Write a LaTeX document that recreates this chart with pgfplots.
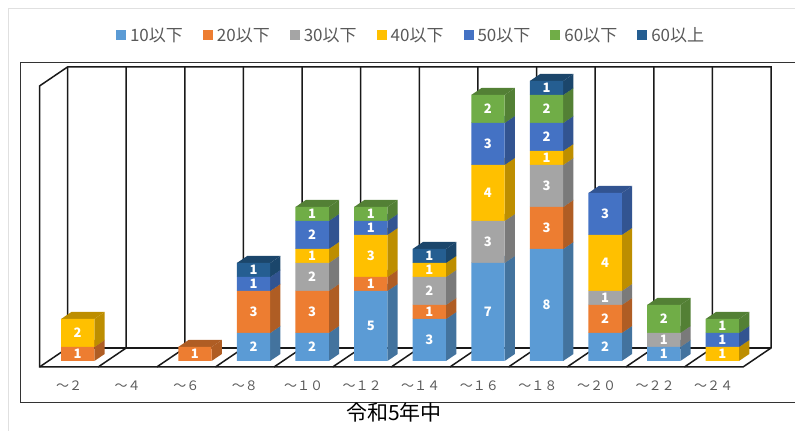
\documentclass[border=0pt]{standalone}
\usepackage{fontspec}
\setmainfont{Noto Sans CJK JP}
\usepackage{pgfplots}
\usepackage{pgfplotstable}
\pgfplotsset{compat=1.18}

\definecolor{c1}{HTML}{5B9BD5}
\definecolor{c2}{HTML}{ED7D31}
\definecolor{c3}{HTML}{A5A5A5}
\definecolor{c4}{HTML}{FFC000}
\definecolor{c5}{HTML}{4472C4}
\definecolor{c6}{HTML}{70AD47}
\definecolor{c7}{HTML}{255E91}
\definecolor{txt}{HTML}{595959}

% people per band, one row per category
\pgfplotstableread{
x  a b c d e f g
0  0 1 0 2 0 0 0
1  0 0 0 0 0 0 0
2  0 1 0 0 0 0 0
3  2 3 0 0 1 0 1
4  2 3 2 1 2 1 0
5  5 1 0 3 1 1 0
6  3 1 2 1 0 0 1
7  7 0 3 4 3 2 0
8  8 3 3 1 2 2 1
9  2 2 1 4 3 0 0
10 1 0 1 0 0 2 0
11 0 0 0 1 1 1 0
}\counts

\pgfdeclareplotmark{nil}{}

\pgfplotsset{
  base/.style={
    scale only axis, width=731.5pt, height=300pt,
    at={(39.5pt,64pt)}, anchor=south west,
    xmin=-0.652, xmax=11.831, ymin=-0.4286, ymax=21,
    clip=false,
  },
  % side and top face of one bar segment, hung from the stacked point
  depth/.style 2 args={
    only marks, scatter, mark=nil,
    visualization depends on={\thisrow{#1}\as\segv},
    scatter/@pre marker code/.code={%
      \ifdim\segv pt>0pt
        \pgfmathsetlengthmacro\segh{14pt*\segv}
        \fill[draw=none, #2!74!black] (16.65pt,0pt) -- (26.95pt,7pt) -- ([yshift=-\segh]26.95pt,7pt) -- ([yshift=-\segh]16.65pt,0pt) -- cycle;
        \fill[draw=none, #2!74!black] (-16.65pt,0pt) -- (16.65pt,0pt) -- (26.95pt,7pt) -- (-6.35pt,7pt) -- cycle;
      \fi
      \scope},
    scatter/@post marker code/.code={\endscope},
  },
  front/.style 2 args={
    fill=#2, draw=none,
    visualization depends on={\thisrow{#1}\as\segv},
    nodes near coords={\ifdim\segv pt>0pt \pgfmathprintnumber[precision=0,assume math mode=true]{\segv}\fi},
    every node near coord/.append style={
      anchor=center, text=white,
      font=\fontsize{13}{13}\selectfont\bfseries, inner sep=0pt},
  },
}

\begin{document}
\begin{tikzpicture}[x=1pt,y=1pt]
\path[use as bounding box] (0,0) rectangle (795,431);
% light outer border of the chart
\draw[draw=black!12, line width=0.8pt] (795,423) -- (8.5,423) -- (8.5,0);
% plot frame
\draw[draw=black!80, line width=0.9pt] (795,369) -- (20.5,369) -- (20.5,29) -- (795,29);
% walls and floor
\begin{scope}[draw=black!90, line width=1.5pt]
\draw (39.5,345) -- (67.5,364) -- (771,364) -- (771,83) -- (743,64) -- (39.5,64) -- cycle;
\draw (67.5,364) -- (67.5,83) -- (771,83);
\foreach \k in {0,...,11} {
  \draw ({67.5+58.625*\k},364) -- ({67.5+58.625*\k},83) -- ({39.5+58.625*\k},64);
}
\end{scope}

% side and top faces first, bottom segment first
\begin{axis}[base, hide axis, stack plots=y, reverse stacked plots=false]
\addplot[depth={a}{c1}] table[x=x, y=a] {\counts};
\addplot[depth={b}{c2}] table[x=x, y=b] {\counts};
\addplot[depth={c}{c3}] table[x=x, y=c] {\counts};
\addplot[depth={d}{c4}] table[x=x, y=d] {\counts};
\addplot[depth={e}{c5}] table[x=x, y=e] {\counts};
\addplot[depth={f}{c6}] table[x=x, y=f] {\counts};
\addplot[depth={g}{c7}] table[x=x, y=g] {\counts};
\end{axis}

% front faces, labels, legend
\begin{axis}[base,
  ybar stacked, bar width=33.3pt,
  axis line style={draw=none}, tick style={draw=none},
  ytick=\empty,
  xtick=data,
  xticklabels={～２,～４,～６,～８,～１０,～１２,～１４,～１６,～１８,～２０,～２２,～２４},
  x tick label style={font=\fontsize{13}{13}\selectfont, text=txt, xshift=-8.6pt, yshift=-10pt},
  xlabel={令和5年中},
  xlabel style={at={(axis description cs:0.4846,-0.153)}, anchor=center,
    font=\fontsize{21}{21}\selectfont, text=black},
  legend columns=-1,
  legend style={at={(axis description cs:0.508,1.105)}, anchor=center, draw=none, fill=none,
    font=\fontsize{17}{17}\selectfont, text=txt, inner sep=0pt,
    /tikz/every even column/.append style={column sep=18pt}},
  legend image code/.code={\fill[#1] (0pt,-5pt) rectangle (10pt,5pt); \path (12pt,0pt);},
]
\addplot[front={a}{c1}] table[x=x, y=a] {\counts};
\addplot[front={b}{c2}] table[x=x, y=b] {\counts};
\addplot[front={c}{c3}] table[x=x, y=c] {\counts};
\addplot[front={d}{c4}] table[x=x, y=d] {\counts};
\addplot[front={e}{c5}] table[x=x, y=e] {\counts};
\addplot[front={f}{c6}] table[x=x, y=f] {\counts};
\addplot[front={g}{c7}] table[x=x, y=g] {\counts};
\legend{10以下,20以下,30以下,40以下,50以下,60以下,60以上}
\end{axis}
\end{tikzpicture}
\end{document}
